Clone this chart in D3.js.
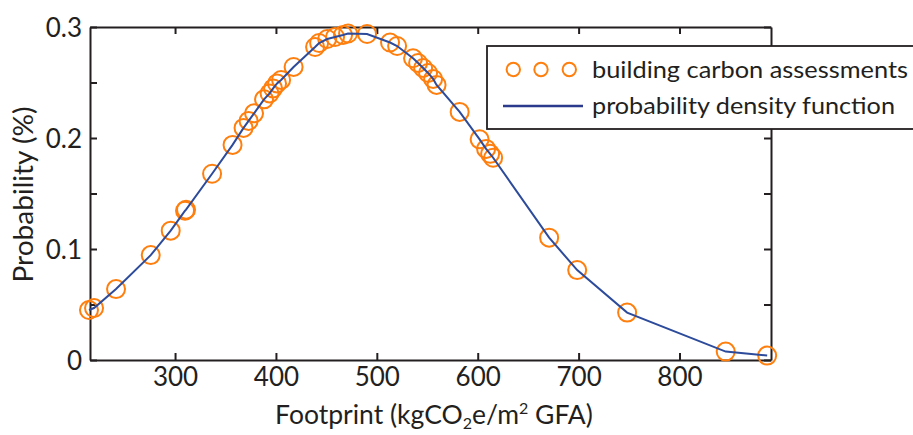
<!DOCTYPE html>
<html>
<head>
<meta charset="utf-8">
<script src="https://cdn.jsdelivr.net/npm/d3@7"></script>
<style>
  html, body { margin: 0; padding: 0; background: #fff; overflow: hidden; }
  svg { display: block; }
  text { font-family: Lato, "Open Sans", sans-serif; fill: #231f20; }
</style>
</head>
<body>
<svg id="chart" width="913" height="435"></svg>
<script>
// ---- data ----
const footprint = [214.7, 219.7, 241.5, 275.9, 295.7, 309.9, 310.9, 336.7, 357.0, 367.9,
  372.9, 378.3, 388.2, 393.7, 397.2, 401.1, 405.1, 417.5, 438.8, 442.8,
  450.8, 458.6, 466.5, 471.5, 490.3, 513.1, 520.1, 535.9, 540.9, 545.9,
  550.8, 555.8, 559.2, 582.1, 601.9, 608.3, 612.3, 615.3, 670.8, 698.6,
  748.1, 845.8, 886.9];
const probability = [0.0450, 0.0468, 0.0639, 0.0945, 0.1165, 0.1345, 0.1354, 0.1678, 0.1938, 0.2091,
  0.2154, 0.2222, 0.2348, 0.2402, 0.2447, 0.2492, 0.2523, 0.2640, 0.2820, 0.2856,
  0.2892, 0.2910, 0.2928, 0.2941, 0.2937, 0.2860, 0.2829, 0.2718, 0.2676, 0.2631,
  0.2586, 0.2532, 0.2478, 0.2235, 0.1988, 0.1902, 0.1857, 0.1822, 0.1102, 0.0810,
  0.0427, 0.0076, 0.0040];
const xDomain = [215.7, 890.7];
const yDomain = [0, 0.3];
const xTickValues = [300, 400, 500, 600, 700, 800];
const yTickValues = [0, 0.05, 0.1, 0.15, 0.2, 0.25, 0.3];
const yTickLabels = ["0", "", "0.1", "", "0.2", "", "0.3"];
const legendLabels = ["building carbon assessments", "probability density function"];

// ---- layout ----
const svg = d3.select("#chart");
const mLeft = 90, mRight = 771, mTop = 27, mBottom = 360;
const x = d3.scaleLinear().domain(xDomain).range([mLeft, mRight]);
const y = d3.scaleLinear().domain(yDomain).range([mBottom, mTop]);
const axisColor = "#231f20";
const orange = "#ff7f0e";
const blue = "#2d4b9b";

// axes
const gx = svg.append("g").attr("transform", `translate(0,${mBottom})`)
  .call(d3.axisBottom(x).tickValues(xTickValues).tickSize(-7).tickSizeOuter(0).tickPadding(8)
    .tickFormat(d3.format("d")));
const gxt = svg.append("g").attr("transform", `translate(0,${mTop})`)
  .call(d3.axisTop(x).tickValues(xTickValues).tickSize(-7).tickSizeOuter(0).tickFormat(""));
const gy = svg.append("g").attr("transform", `translate(${mLeft},0)`)
  .call(d3.axisLeft(y).tickValues(yTickValues).tickSize(-7).tickSizeOuter(0).tickPadding(8)
    .tickFormat((d, i) => yTickLabels[i]));
const gyr = svg.append("g").attr("transform", `translate(${mRight},0)`)
  .call(d3.axisRight(y).tickValues(yTickValues).tickSize(-7).tickSizeOuter(0).tickFormat(""));

[gx, gxt, gy, gyr].forEach(g => {
  g.select(".domain").attr("stroke", axisColor).attr("stroke-width", 2);
  g.selectAll(".tick line").attr("stroke", axisColor).attr("stroke-width", 2);
  g.selectAll(".tick text").attr("font-size", 26).attr("fill", axisColor)
    .style("font-family", "Lato, sans-serif");
});
gy.selectAll(".tick text").attr("dy", "0.36em");

// data points
svg.append("g").selectAll("circle").data(footprint).join("circle")
  .attr("cx", d => x(d))
  .attr("cy", (d, i) => y(probability[i]))
  .attr("r", 9)
  .attr("fill", "none")
  .attr("stroke", orange)
  .attr("stroke-width", 2);

// pdf line
const pts = footprint.map((d, i) => [d, probability[i]]);
svg.append("path").datum(pts)
  .attr("fill", "none").attr("stroke", blue).attr("stroke-width", 2)
  .attr("d", d3.line().x(d => x(d[0])).y(d => y(d[1])));

// axis titles
const xt = svg.append("text").attr("x", 434).attr("y", 424).attr("text-anchor", "middle")
  .attr("font-size", 26.5);
xt.append("tspan").text("Footprint (kgCO");
xt.append("tspan").text("2").attr("font-size", 16).attr("dy", 5);
xt.append("tspan").text("e/m").attr("dy", -5);
xt.append("tspan").text("2").attr("font-size", 16).attr("dy", -10);
xt.append("tspan").text(" GFA)").attr("dy", 10);

svg.append("text").attr("transform", "translate(33,194.5) rotate(-90)")
  .attr("text-anchor", "middle").attr("font-size", 27)
  .attr("textLength", 176).attr("lengthAdjust", "spacingAndGlyphs").text("Probability (%)");

// legend
const lg = svg.append("g");
lg.append("rect").attr("x", 487).attr("y", 46).attr("width", 500).attr("height", 83)
  .attr("fill", "#fff").attr("stroke", axisColor).attr("stroke-width", 1.8);
lg.selectAll("circle").data([513.3, 541, 569.3]).join("circle")
  .attr("cx", d => d).attr("cy", 69.5).attr("r", 6.7)
  .attr("fill", "none").attr("stroke", orange).attr("stroke-width", 2);
lg.append("line").attr("x1", 503).attr("x2", 583).attr("y1", 106).attr("y2", 106)
  .attr("stroke", "#2b3a8c").attr("stroke-width", 2.5);
lg.append("text").attr("x", 592).attr("y", 78).attr("font-size", 23)
  .attr("textLength", 316).attr("lengthAdjust", "spacingAndGlyphs").text(legendLabels[0]);
lg.append("text").attr("x", 592).attr("y", 114).attr("font-size", 23)
  .attr("textLength", 303).attr("lengthAdjust", "spacingAndGlyphs").text(legendLabels[1]);
</script>
</body>
</html>
